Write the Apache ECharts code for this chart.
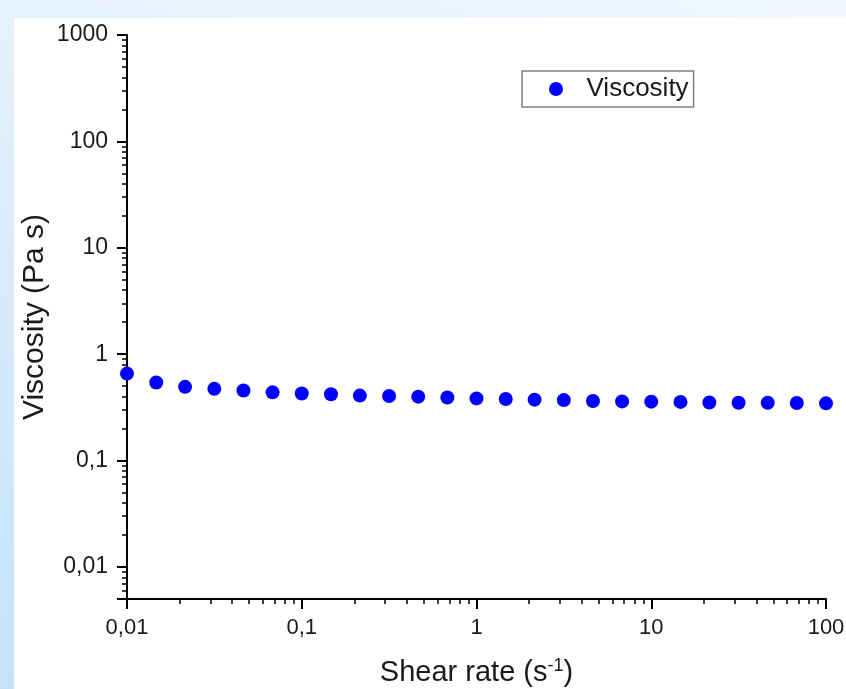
<!DOCTYPE html>
<html>
<head>
<meta charset="utf-8">
<script src="https://cdn.jsdelivr.net/npm/echarts@6/dist/echarts.min.js"></script>
<style>
  html, body { margin: 0; padding: 0; width: 846px; height: 689px; overflow: hidden; }
  body { background: linear-gradient(200deg, #f2f8fe 0%, #e4f1fc 35%, #c3e2fa 100%); position: relative; }
  #chart { position: absolute; left: 14px; top: 18px; width: 832px; height: 671px; background: #ffffff; }
</style>
</head>
<body>
<div id="chart"></div>
<script>
// Shear rate sweep (s^-1) and measured viscosity (Pa s)
const shearRate = [0.01, 0.0147, 0.0215, 0.0316, 0.0464, 0.0681, 0.1, 0.147, 0.215, 0.316, 0.464, 0.681,
                   1, 1.47, 2.15, 3.16, 4.64, 6.81, 10, 14.7, 21.5, 31.6, 46.4, 68.1, 100];
const viscosity = [0.657, 0.541, 0.493, 0.472, 0.455, 0.438, 0.427, 0.420, 0.408, 0.405, 0.399, 0.391,
                   0.384, 0.379, 0.374, 0.370, 0.363, 0.360, 0.358, 0.356, 0.352, 0.350, 0.350, 0.348, 0.345];

const xRange = [0.01, 100];
const yRange = [0.005, 1000];

const seriesName = 'Viscosity';
const xTitle = 'Shear rate (s{sup|-1})';
const yTitle = 'Viscosity (Pa s)';

const FONT = '"Liberation Sans", Arial, sans-serif';

function isDecade(v) {
  const e = Math.log10(v);
  return Math.abs(e - Math.round(e)) < 1e-6;
}
// Decade labels with a decimal comma: 0,01  0,1  1  10 ...
function decimalComma(v) {
  if (!isDecade(v)) return '';
  const e = Math.round(Math.log10(v));
  const s = e >= 0 ? String(Math.pow(10, e)) : (Math.pow(10, e)).toFixed(-e);
  return s.replace('.', ',');
}

const points = shearRate.map((x, i) => [x, viscosity[i]]);

const chart = echarts.init(document.getElementById('chart'), null, { renderer: 'canvas' });

const axisCommon = {
  type: 'log',
  logBase: 10,
  axisLine: { show: true, onZero: false, lineStyle: { color: '#000', width: 2 } },
  axisTick: { show: true, inside: false, length: 10, lineStyle: { color: '#000', width: 2 } },
  minorTick: { show: true, splitNumber: 9, length: 5, lineStyle: { color: '#000', width: 1.5 } },
  splitLine: { show: false },
  minorSplitLine: { show: false },
  axisLabel: { color: '#1a1a1a', fontFamily: FONT, fontSize: 22, margin: 18, formatter: decimalComma },
  nameMoveOverlap: false,
  nameTextStyle: { color: '#1a1a1a', fontFamily: FONT, fontSize: 29 }
};

chart.setOption({
  animation: false,
  backgroundColor: 'transparent',
  grid: { left: 113, top: 17, right: 20, bottom: 90, containLabel: false, outerBoundsMode: 'none' },
  legend: {
    data: [{ name: seriesName, icon: 'circle', itemStyle: { color: '#0000ff', opacity: 1 } }],
    left: 508, top: 53,
    orient: 'horizontal',
    itemWidth: 51, itemHeight: 14,
    padding: [4, 5, 4, 27],
    borderColor: '#808080', borderWidth: 1.5, borderRadius: 0,
    backgroundColor: '#fff',
    textStyle: { color: '#1a1a1a', fontFamily: FONT, fontSize: 26, lineHeight: 28 }
  },
  xAxis: Object.assign({}, axisCommon, {
    min: xRange[0], max: xRange[1],
    name: xTitle,
    nameLocation: 'middle',
    nameGap: 58,
    nameTextStyle: Object.assign({}, axisCommon.nameTextStyle, {
      rich: { sup: { fontFamily: FONT, fontSize: 18, color: '#1a1a1a', verticalAlign: 'top', padding: [0, 0, 14, 0] } }
    })
  }),
  yAxis: Object.assign({}, axisCommon, {
    min: yRange[0], max: yRange[1],
    name: yTitle,
    nameLocation: 'middle',
    nameRotate: 90,
    nameGap: 77,
    nameTextStyle: Object.assign({}, axisCommon.nameTextStyle, { fontSize: 30 }),
    axisLabel: Object.assign({}, axisCommon.axisLabel, { fontSize: 23, margin: 19, showMinLabel: false })
  }),
  series: [{
    name: seriesName,
    type: 'scatter',
    symbol: 'circle',
    symbolSize: 14,
    clip: true,
    itemStyle: { color: '#0000ff', opacity: 1 },
    data: points
  }]
});
</script>
</body>
</html>
